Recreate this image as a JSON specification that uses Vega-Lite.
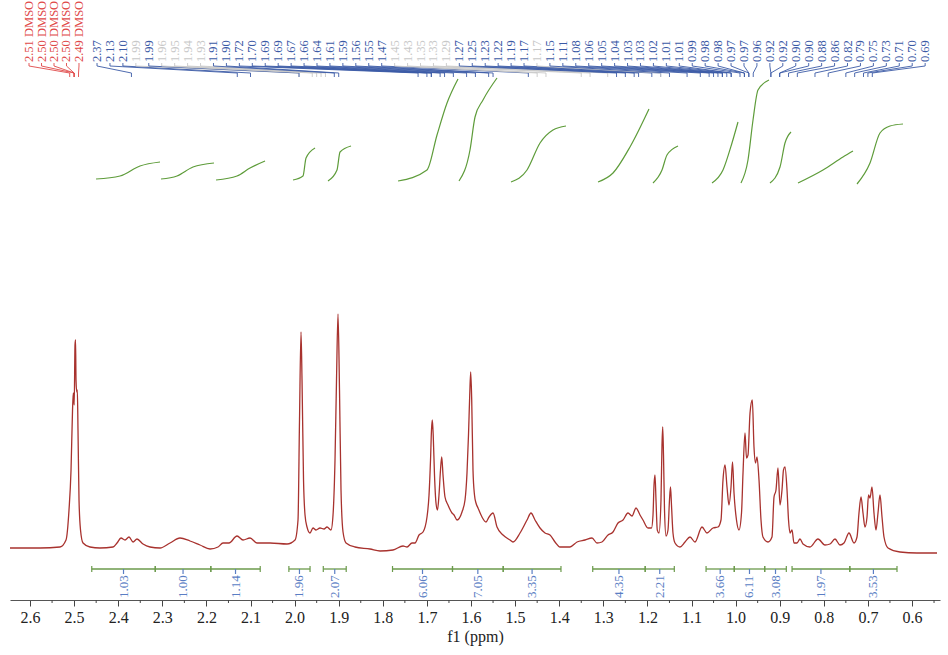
{
  "$schema": "https://vega.github.io/schema/vega-lite/v6.json",
  "width": 930,
  "height": 600,
  "autosize": {"type": "none"},
  "padding": {"left": 10, "right": 8, "top": 0, "bottom": 55},
  "background": "white",
  "config": {
    "view": {"stroke": null},
    "axisX": {
      "grid": false,
      "tickSize": 6,
      "tickColor": "#444",
      "domainColor": "#555",
      "labelFont": "Liberation Serif",
      "labelFontSize": 16,
      "labelColor": "#222",
      "labelPadding": 3,
      "labelFlush": false,
      "titleFont": "Liberation Serif",
      "titleFontSize": 16,
      "titleFontWeight": "normal",
      "titleColor": "#222",
      "titlePadding": 3
    }
  },
  "datasets": {
    "spectrum": [
      {"ppm":2.6454,"h":52},{"ppm":2.5773,"h":52},{"ppm":2.532,"h":53},{"ppm":2.5184,"h":60},{"ppm":2.5116,"h":90},{"ppm":2.507,"h":130},{"ppm":2.5036,"h":190},{"ppm":2.5018,"h":207},{"ppm":2.4998,"h":195},{"ppm":2.498,"h":255},{"ppm":2.4968,"h":260},{"ppm":2.4957,"h":220},{"ppm":2.4941,"h":208},{"ppm":2.4927,"h":210},{"ppm":2.4912,"h":170},{"ppm":2.4889,"h":100},{"ppm":2.4855,"h":70},{"ppm":2.4798,"h":57},{"ppm":2.464,"h":53},{"ppm":2.4413,"h":52},{"ppm":2.4118,"h":53},{"ppm":2.4027,"h":57},{"ppm":2.3937,"h":62},{"ppm":2.3846,"h":60},{"ppm":2.3755,"h":63},{"ppm":2.3664,"h":58},{"ppm":2.3574,"h":61},{"ppm":2.3438,"h":56},{"ppm":2.3279,"h":53},{"ppm":2.3052,"h":52},{"ppm":2.2825,"h":57},{"ppm":2.2599,"h":62},{"ppm":2.2372,"h":59},{"ppm":2.2145,"h":55},{"ppm":2.1918,"h":51},{"ppm":2.1737,"h":53},{"ppm":2.1624,"h":57},{"ppm":2.1488,"h":57},{"ppm":2.1306,"h":64},{"ppm":2.117,"h":60},{"ppm":2.1011,"h":62},{"ppm":2.0853,"h":57},{"ppm":2.0558,"h":57},{"ppm":2.0172,"h":56},{"ppm":1.9991,"h":60},{"ppm":1.9923,"h":80},{"ppm":1.9889,"h":180},{"ppm":1.9855,"h":268},{"ppm":1.9832,"h":220},{"ppm":1.9798,"h":120},{"ppm":1.9764,"h":85},{"ppm":1.9719,"h":73},{"ppm":1.9651,"h":67},{"ppm":1.9583,"h":72},{"ppm":1.9515,"h":70},{"ppm":1.9424,"h":72},{"ppm":1.9333,"h":71},{"ppm":1.9265,"h":73},{"ppm":1.9175,"h":70},{"ppm":1.9129,"h":85},{"ppm":1.9084,"h":140},{"ppm":1.905,"h":220},{"ppm":1.9016,"h":286},{"ppm":1.8982,"h":210},{"ppm":1.8948,"h":110},{"ppm":1.8902,"h":68},{"ppm":1.8834,"h":57},{"ppm":1.863,"h":53},{"ppm":1.829,"h":51},{"ppm":1.8063,"h":49},{"ppm":1.7769,"h":50},{"ppm":1.7542,"h":54},{"ppm":1.7451,"h":53},{"ppm":1.7338,"h":57},{"ppm":1.727,"h":57},{"ppm":1.7179,"h":65},{"ppm":1.7088,"h":68},{"ppm":1.6998,"h":83},{"ppm":1.6952,"h":105},{"ppm":1.6918,"h":140},{"ppm":1.6896,"h":170},{"ppm":1.6878,"h":180},{"ppm":1.6857,"h":165},{"ppm":1.6828,"h":125},{"ppm":1.6794,"h":97},{"ppm":1.676,"h":90},{"ppm":1.6726,"h":105},{"ppm":1.6692,"h":130},{"ppm":1.6664,"h":143},{"ppm":1.6635,"h":125},{"ppm":1.659,"h":103},{"ppm":1.6522,"h":95},{"ppm":1.6431,"h":87},{"ppm":1.6385,"h":85},{"ppm":1.6317,"h":80},{"ppm":1.6204,"h":88},{"ppm":1.6136,"h":100},{"ppm":1.6091,"h":127},{"ppm":1.6057,"h":165},{"ppm":1.6029,"h":205},{"ppm":1.6007,"h":228},{"ppm":1.5984,"h":200},{"ppm":1.5955,"h":130},{"ppm":1.5921,"h":105},{"ppm":1.5887,"h":97},{"ppm":1.5841,"h":92},{"ppm":1.5751,"h":83},{"ppm":1.566,"h":78},{"ppm":1.5592,"h":83},{"ppm":1.5501,"h":87},{"ppm":1.541,"h":73},{"ppm":1.5274,"h":65},{"ppm":1.5116,"h":60},{"ppm":1.5048,"h":58},{"ppm":1.4889,"h":67},{"ppm":1.473,"h":80},{"ppm":1.464,"h":87},{"ppm":1.4549,"h":80},{"ppm":1.4435,"h":72},{"ppm":1.4322,"h":67},{"ppm":1.4209,"h":65},{"ppm":1.4095,"h":58},{"ppm":1.3982,"h":53},{"ppm":1.3755,"h":53},{"ppm":1.3596,"h":58},{"ppm":1.3415,"h":60},{"ppm":1.3256,"h":62},{"ppm":1.3143,"h":57},{"ppm":1.303,"h":58},{"ppm":1.2893,"h":65},{"ppm":1.278,"h":68},{"ppm":1.2667,"h":77},{"ppm":1.2553,"h":80},{"ppm":1.244,"h":87},{"ppm":1.2349,"h":84},{"ppm":1.2259,"h":92},{"ppm":1.2168,"h":85},{"ppm":1.21,"h":80},{"ppm":1.1986,"h":72},{"ppm":1.1907,"h":72},{"ppm":1.1873,"h":85},{"ppm":1.185,"h":115},{"ppm":1.1828,"h":125},{"ppm":1.1805,"h":100},{"ppm":1.1776,"h":70},{"ppm":1.1737,"h":67},{"ppm":1.1692,"h":100},{"ppm":1.1669,"h":155},{"ppm":1.1653,"h":173},{"ppm":1.1635,"h":145},{"ppm":1.1612,"h":90},{"ppm":1.1578,"h":64},{"ppm":1.1533,"h":70},{"ppm":1.1499,"h":100},{"ppm":1.1476,"h":113},{"ppm":1.1454,"h":95},{"ppm":1.142,"h":67},{"ppm":1.1374,"h":57},{"ppm":1.1261,"h":53},{"ppm":1.1147,"h":58},{"ppm":1.1034,"h":63},{"ppm":1.0921,"h":58},{"ppm":1.0762,"h":73},{"ppm":1.0649,"h":67},{"ppm":1.0512,"h":72},{"ppm":1.0399,"h":73},{"ppm":1.0331,"h":80},{"ppm":1.0286,"h":120},{"ppm":1.024,"h":135},{"ppm":1.0195,"h":113},{"ppm":1.015,"h":95},{"ppm":1.0104,"h":113},{"ppm":1.007,"h":138},{"ppm":1.0036,"h":107},{"ppm":0.998,"h":80},{"ppm":0.9923,"h":70},{"ppm":0.9866,"h":87},{"ppm":0.9832,"h":127},{"ppm":0.9787,"h":167},{"ppm":0.9753,"h":142},{"ppm":0.9719,"h":145},{"ppm":0.9673,"h":187},{"ppm":0.9621,"h":200},{"ppm":0.9583,"h":153},{"ppm":0.9549,"h":137},{"ppm":0.9515,"h":143},{"ppm":0.9469,"h":120},{"ppm":0.9424,"h":80},{"ppm":0.9379,"h":63},{"ppm":0.9265,"h":58},{"ppm":0.9175,"h":63},{"ppm":0.9129,"h":103},{"ppm":0.9084,"h":110},{"ppm":0.9039,"h":132},{"ppm":0.8993,"h":95},{"ppm":0.8948,"h":110},{"ppm":0.8914,"h":130},{"ppm":0.888,"h":133},{"ppm":0.8834,"h":110},{"ppm":0.88,"h":80},{"ppm":0.8766,"h":67},{"ppm":0.8721,"h":70},{"ppm":0.8676,"h":57},{"ppm":0.8608,"h":57},{"ppm":0.854,"h":61},{"ppm":0.8472,"h":56},{"ppm":0.8313,"h":53},{"ppm":0.8132,"h":61},{"ppm":0.7973,"h":55},{"ppm":0.7859,"h":56},{"ppm":0.7746,"h":61},{"ppm":0.7633,"h":55},{"ppm":0.7542,"h":57},{"ppm":0.7429,"h":67},{"ppm":0.7315,"h":57},{"ppm":0.7247,"h":63},{"ppm":0.7202,"h":87},{"ppm":0.7156,"h":103},{"ppm":0.7111,"h":87},{"ppm":0.7066,"h":73},{"ppm":0.702,"h":83},{"ppm":0.6986,"h":105},{"ppm":0.6952,"h":102},{"ppm":0.6907,"h":113},{"ppm":0.6862,"h":87},{"ppm":0.6816,"h":70},{"ppm":0.6771,"h":87},{"ppm":0.6726,"h":105},{"ppm":0.668,"h":83},{"ppm":0.6635,"h":63},{"ppm":0.6544,"h":52},{"ppm":0.6272,"h":48},{"ppm":0.5887,"h":47},{"ppm":0.5433,"h":47}
    ],
    "integrals": [
      {"r":1,"ppm":2.4503,"h":421},{"r":1,"ppm":2.3959,"h":424},{"r":1,"ppm":2.3506,"h":434},{"r":1,"ppm":2.3052,"h":438},
      {"r":2,"ppm":2.303,"h":421},{"r":2,"ppm":2.2667,"h":424},{"r":2,"ppm":2.2304,"h":433},{"r":2,"ppm":2.1828,"h":437},
      {"r":3,"ppm":2.1782,"h":420},{"r":3,"ppm":2.1306,"h":424},{"r":3,"ppm":2.1011,"h":432},{"r":3,"ppm":2.0671,"h":439},
      {"r":4,"ppm":2.0036,"h":420},{"r":4,"ppm":1.981,"h":424},{"r":4,"ppm":1.9741,"h":442},{"r":4,"ppm":1.9537,"h":452},
      {"r":5,"ppm":1.9243,"h":419},{"r":5,"ppm":1.9039,"h":430},{"r":5,"ppm":1.897,"h":448},{"r":5,"ppm":1.8721,"h":454},
      {"r":6,"ppm":1.7655,"h":419},{"r":6,"ppm":1.6998,"h":430},{"r":6,"ppm":1.6771,"h":465},{"r":6,"ppm":1.6544,"h":497},{"r":6,"ppm":1.6295,"h":521},
      {"r":7,"ppm":1.6272,"h":419},{"r":7,"ppm":1.6023,"h":450},{"r":7,"ppm":1.5909,"h":483},{"r":7,"ppm":1.5728,"h":500},{"r":7,"ppm":1.541,"h":522},
      {"r":8,"ppm":1.5093,"h":418},{"r":8,"ppm":1.473,"h":430},{"r":8,"ppm":1.4435,"h":457},{"r":8,"ppm":1.4141,"h":470},{"r":8,"ppm":1.3846,"h":474},
      {"r":9,"ppm":1.312,"h":418},{"r":9,"ppm":1.278,"h":427},{"r":9,"ppm":1.2395,"h":453},{"r":9,"ppm":1.1964,"h":491},
      {"r":10,"ppm":1.1873,"h":417},{"r":10,"ppm":1.1669,"h":430},{"r":10,"ppm":1.1556,"h":445},{"r":10,"ppm":1.1306,"h":454},
      {"r":11,"ppm":1.0535,"h":417},{"r":11,"ppm":1.0286,"h":430},{"r":11,"ppm":1.0082,"h":457},{"r":11,"ppm":0.9946,"h":478},
      {"r":12,"ppm":0.9878,"h":417},{"r":12,"ppm":0.9719,"h":440},{"r":12,"ppm":0.9605,"h":480},{"r":12,"ppm":0.9492,"h":510},{"r":12,"ppm":0.9243,"h":520},
      {"r":13,"ppm":0.922,"h":417},{"r":13,"ppm":0.8993,"h":433},{"r":13,"ppm":0.888,"h":457},{"r":13,"ppm":0.8744,"h":468},
      {"r":14,"ppm":0.8585,"h":417},{"r":14,"ppm":0.8018,"h":430},{"r":14,"ppm":0.7565,"h":443},{"r":14,"ppm":0.7338,"h":449},
      {"r":15,"ppm":0.7247,"h":416},{"r":15,"ppm":0.6952,"h":437},{"r":15,"ppm":0.6726,"h":467},{"r":15,"ppm":0.6499,"h":474},{"r":15,"ppm":0.6204,"h":476}
    ],
    "regions": [
      {"from":2.46,"to":2.316,"area":"1.03"},{"from":2.316,"to":2.19,"area":"1.00"},{"from":2.19,"to":2.078,"area":"1.14"},
      {"from":2.013,"to":1.965,"area":"1.96"},{"from":1.935,"to":1.883,"area":"2.07"},
      {"from":1.778,"to":1.642,"area":"6.06"},{"from":1.642,"to":1.527,"area":"7.05"},{"from":1.527,"to":1.396,"area":"3.35"},
      {"from":1.324,"to":1.205,"area":"4.35"},{"from":1.205,"to":1.139,"area":"2.21"},
      {"from":1.067,"to":1.003,"area":"3.66"},{"from":1.003,"to":0.934,"area":"6.11"},{"from":0.934,"to":0.885,"area":"3.08"},
      {"from":0.872,"to":0.741,"area":"1.97"},{"from":0.741,"to":0.634,"area":"3.53"}
    ],
    "peaks": [
      {"n":1,"shift":2.51,"kind":"solvent"},{"n":2,"shift":2.50,"kind":"solvent"},{"n":3,"shift":2.50,"kind":"solvent"},{"n":4,"shift":2.50,"kind":"solvent"},{"n":5,"shift":2.49,"kind":"solvent"},
      {"n":6,"shift":2.37,"kind":"peak"},{"n":7,"shift":2.13,"kind":"peak"},{"n":8,"shift":2.10,"kind":"peak"},{"n":9,"shift":1.99,"kind":"faint"},{"n":10,"shift":1.99,"kind":"peak"},
      {"n":11,"shift":1.96,"kind":"faint"},{"n":12,"shift":1.95,"kind":"faint"},{"n":13,"shift":1.94,"kind":"faint"},{"n":14,"shift":1.93,"kind":"faint"},{"n":15,"shift":1.91,"kind":"peak"},
      {"n":16,"shift":1.90,"kind":"peak"},{"n":17,"shift":1.72,"kind":"peak"},{"n":18,"shift":1.70,"kind":"peak"},{"n":19,"shift":1.69,"kind":"peak"},{"n":20,"shift":1.69,"kind":"peak"},
      {"n":21,"shift":1.67,"kind":"peak"},{"n":22,"shift":1.66,"kind":"peak"},{"n":23,"shift":1.64,"kind":"peak"},{"n":24,"shift":1.61,"kind":"peak"},{"n":25,"shift":1.59,"kind":"peak"},
      {"n":26,"shift":1.56,"kind":"peak"},{"n":27,"shift":1.55,"kind":"peak"},{"n":28,"shift":1.47,"kind":"peak"},{"n":29,"shift":1.45,"kind":"faint"},{"n":30,"shift":1.43,"kind":"faint"},
      {"n":31,"shift":1.35,"kind":"faint"},{"n":32,"shift":1.33,"kind":"faint"},{"n":33,"shift":1.29,"kind":"faint"},{"n":34,"shift":1.27,"kind":"peak"},{"n":35,"shift":1.25,"kind":"peak"},
      {"n":36,"shift":1.23,"kind":"peak"},{"n":37,"shift":1.22,"kind":"peak"},{"n":38,"shift":1.19,"kind":"peak"},{"n":39,"shift":1.17,"kind":"peak"},{"n":40,"shift":1.17,"kind":"faint"},
      {"n":41,"shift":1.15,"kind":"peak"},{"n":42,"shift":1.11,"kind":"peak"},{"n":43,"shift":1.08,"kind":"peak"},{"n":44,"shift":1.06,"kind":"peak"},{"n":45,"shift":1.05,"kind":"peak"},
      {"n":46,"shift":1.04,"kind":"peak"},{"n":47,"shift":1.03,"kind":"peak"},{"n":48,"shift":1.03,"kind":"peak"},{"n":49,"shift":1.02,"kind":"peak"},{"n":50,"shift":1.01,"kind":"peak"},
      {"n":51,"shift":1.01,"kind":"peak"},{"n":52,"shift":0.99,"kind":"peak"},{"n":53,"shift":0.98,"kind":"peak"},{"n":54,"shift":0.98,"kind":"peak"},{"n":55,"shift":0.97,"kind":"peak"},
      {"n":56,"shift":0.97,"kind":"peak"},{"n":57,"shift":0.96,"kind":"peak"},{"n":58,"shift":0.92,"kind":"peak"},{"n":59,"shift":0.92,"kind":"peak"},{"n":60,"shift":0.90,"kind":"peak"},
      {"n":61,"shift":0.90,"kind":"peak"},{"n":62,"shift":0.88,"kind":"peak"},{"n":63,"shift":0.86,"kind":"peak"},{"n":64,"shift":0.82,"kind":"peak"},{"n":65,"shift":0.79,"kind":"peak"},
      {"n":66,"shift":0.75,"kind":"peak"},{"n":67,"shift":0.73,"kind":"peak"},{"n":68,"shift":0.71,"kind":"peak"},{"n":69,"shift":0.70,"kind":"peak"},{"n":70,"shift":0.69,"kind":"peak"}
    ],
    "minorTicks": [
      {"p":2.55},{"p":2.45},{"p":2.35},{"p":2.25},{"p":2.15},{"p":2.05},{"p":1.95},{"p":1.85},{"p":1.75},{"p":1.65},{"p":1.55},
      {"p":1.45},{"p":1.35},{"p":1.25},{"p":1.15},{"p":1.05},{"p":0.95},{"p":0.85},{"p":0.75},{"p":0.65},{"p":0.55}
    ]
  },
  "layer": [
    {
      "data": {"name": "spectrum"},
      "mark": {"type": "line", "color": "#a8322e", "strokeWidth": 1.3, "interpolate": "monotone"},
      "encoding": {
        "x": {
          "field": "ppm", "type": "quantitative",
          "scale": {"domain": [0.5365, 2.6454], "reverse": true, "nice": false, "zero": false},
          "axis": {
            "title": "f1 (ppm)",
            "values": [2.6, 2.5, 2.4, 2.3, 2.2, 2.1, 2.0, 1.9, 1.8, 1.7, 1.6, 1.5, 1.4, 1.3, 1.2, 1.1, 1.0, 0.9, 0.8, 0.7, 0.6],
            "format": ".1f"
          }
        },
        "y": {"field": "h", "type": "quantitative", "scale": {"domain": [0, 600], "nice": false, "zero": false}, "axis": null}
      }
    },
    {
      "data": {"name": "integrals"},
      "mark": {"type": "line", "color": "#5e9c3a", "strokeWidth": 1.2, "interpolate": "monotone"},
      "encoding": {
        "x": {"field": "ppm", "type": "quantitative"},
        "y": {"field": "h", "type": "quantitative", "axis": null},
        "detail": {"field": "r", "type": "nominal"}
      }
    },
    {
      "data": {"name": "minorTicks"},
      "mark": {"type": "rule", "color": "#444", "strokeWidth": 1},
      "encoding": {
        "x": {"field": "p", "type": "quantitative"},
        "y": {"datum": 0, "type": "quantitative", "axis": null},
        "y2": {"datum": -3}
      }
    },
    {
      "data": {"name": "regions"},
      "mark": {"type": "rule", "color": "#6b9a4b", "strokeWidth": 1.3},
      "encoding": {
        "x": {"field": "from", "type": "quantitative"},
        "x2": {"field": "to"},
        "y": {"datum": 31, "type": "quantitative", "axis": null}
      }
    },
    {
      "data": {"name": "regions"},
      "mark": {"type": "rule", "color": "#6b9a4b", "strokeWidth": 1.2},
      "encoding": {
        "x": {"field": "from", "type": "quantitative"},
        "y": {"datum": 28, "type": "quantitative", "axis": null},
        "y2": {"datum": 34}
      }
    },
    {
      "data": {"name": "regions"},
      "mark": {"type": "rule", "color": "#6b9a4b", "strokeWidth": 1.2},
      "encoding": {
        "x": {"field": "to", "type": "quantitative"},
        "y": {"datum": 28, "type": "quantitative", "axis": null},
        "y2": {"datum": 34}
      }
    },
    {
      "data": {"name": "regions"},
      "transform": [{"calculate": "(datum.from + datum.to) / 2", "as": "mid"}],
      "mark": {"type": "rule", "color": "#5a7ec4", "strokeWidth": 1.2},
      "encoding": {
        "x": {"field": "mid", "type": "quantitative"},
        "y": {"datum": 31, "type": "quantitative", "axis": null},
        "y2": {"datum": 26}
      }
    },
    {
      "data": {"name": "regions"},
      "transform": [{"calculate": "(datum.from + datum.to) / 2", "as": "mid"}],
      "mark": {"type": "text", "angle": 270, "align": "left", "baseline": "middle", "font": "Liberation Serif", "fontSize": 13, "color": "#5a7ec4"},
      "encoding": {
        "x": {"field": "mid", "type": "quantitative"},
        "y": {"datum": 2, "type": "quantitative", "axis": null},
        "text": {"field": "area", "type": "nominal"}
      }
    },
    {
      "data": {"name": "peaks"},
      "transform": [
        {"calculate": "datum.n <= 5 ? 2.6023 - 0.02834 * (datum.n - 1) : 2.44807 - 0.029342 * (datum.n - 6)", "as": "lx"}
      ],
      "mark": {"type": "rule", "strokeWidth": 0.9},
      "encoding": {
        "x": {"field": "lx", "type": "quantitative"},
        "y": {"datum": 537, "type": "quantitative", "axis": null},
        "y2": {"datum": 534},
        "color": {"field": "kind", "type": "nominal", "scale": {"domain": ["solvent", "peak", "faint"], "range": ["#e04848", "#3b5aa6", "#c8c8c8"]}, "legend": null}
      }
    },
    {
      "data": {"name": "peaks"},
      "transform": [
        {"calculate": "datum.n <= 5 ? 2.6023 - 0.02834 * (datum.n - 1) : 2.44807 - 0.029342 * (datum.n - 6)", "as": "lx"}
      ],
      "mark": {"type": "rule", "strokeWidth": 0.9},
      "encoding": {
        "x": {"field": "lx", "type": "quantitative"},
        "x2": {"field": "shift"},
        "y": {"datum": 534, "type": "quantitative", "axis": null},
        "y2": {"datum": 527},
        "color": {"field": "kind", "type": "nominal", "legend": null}
      }
    },
    {
      "data": {"name": "peaks"},
      "mark": {"type": "rule", "strokeWidth": 0.9},
      "encoding": {
        "x": {"field": "shift", "type": "quantitative"},
        "y": {"datum": 527, "type": "quantitative", "axis": null},
        "y2": {"datum": 523},
        "color": {"field": "kind", "type": "nominal", "legend": null}
      }
    },
    {
      "data": {"name": "peaks"},
      "transform": [
        {"calculate": "datum.n <= 5 ? 2.6023 - 0.02834 * (datum.n - 1) : 2.44807 - 0.029342 * (datum.n - 6)", "as": "lx"},
        {"calculate": "format(datum.shift, '.2f') + (datum.kind == 'solvent' ? ' DMSO' : '')", "as": "label"}
      ],
      "mark": {"type": "text", "angle": 270, "align": "left", "baseline": "middle", "font": "Liberation Serif", "fontSize": 12.5},
      "encoding": {
        "x": {"field": "lx", "type": "quantitative"},
        "y": {"datum": 538, "type": "quantitative", "axis": null},
        "text": {"field": "label", "type": "nominal"},
        "color": {"field": "kind", "type": "nominal", "legend": null}
      }
    }
  ]
}
